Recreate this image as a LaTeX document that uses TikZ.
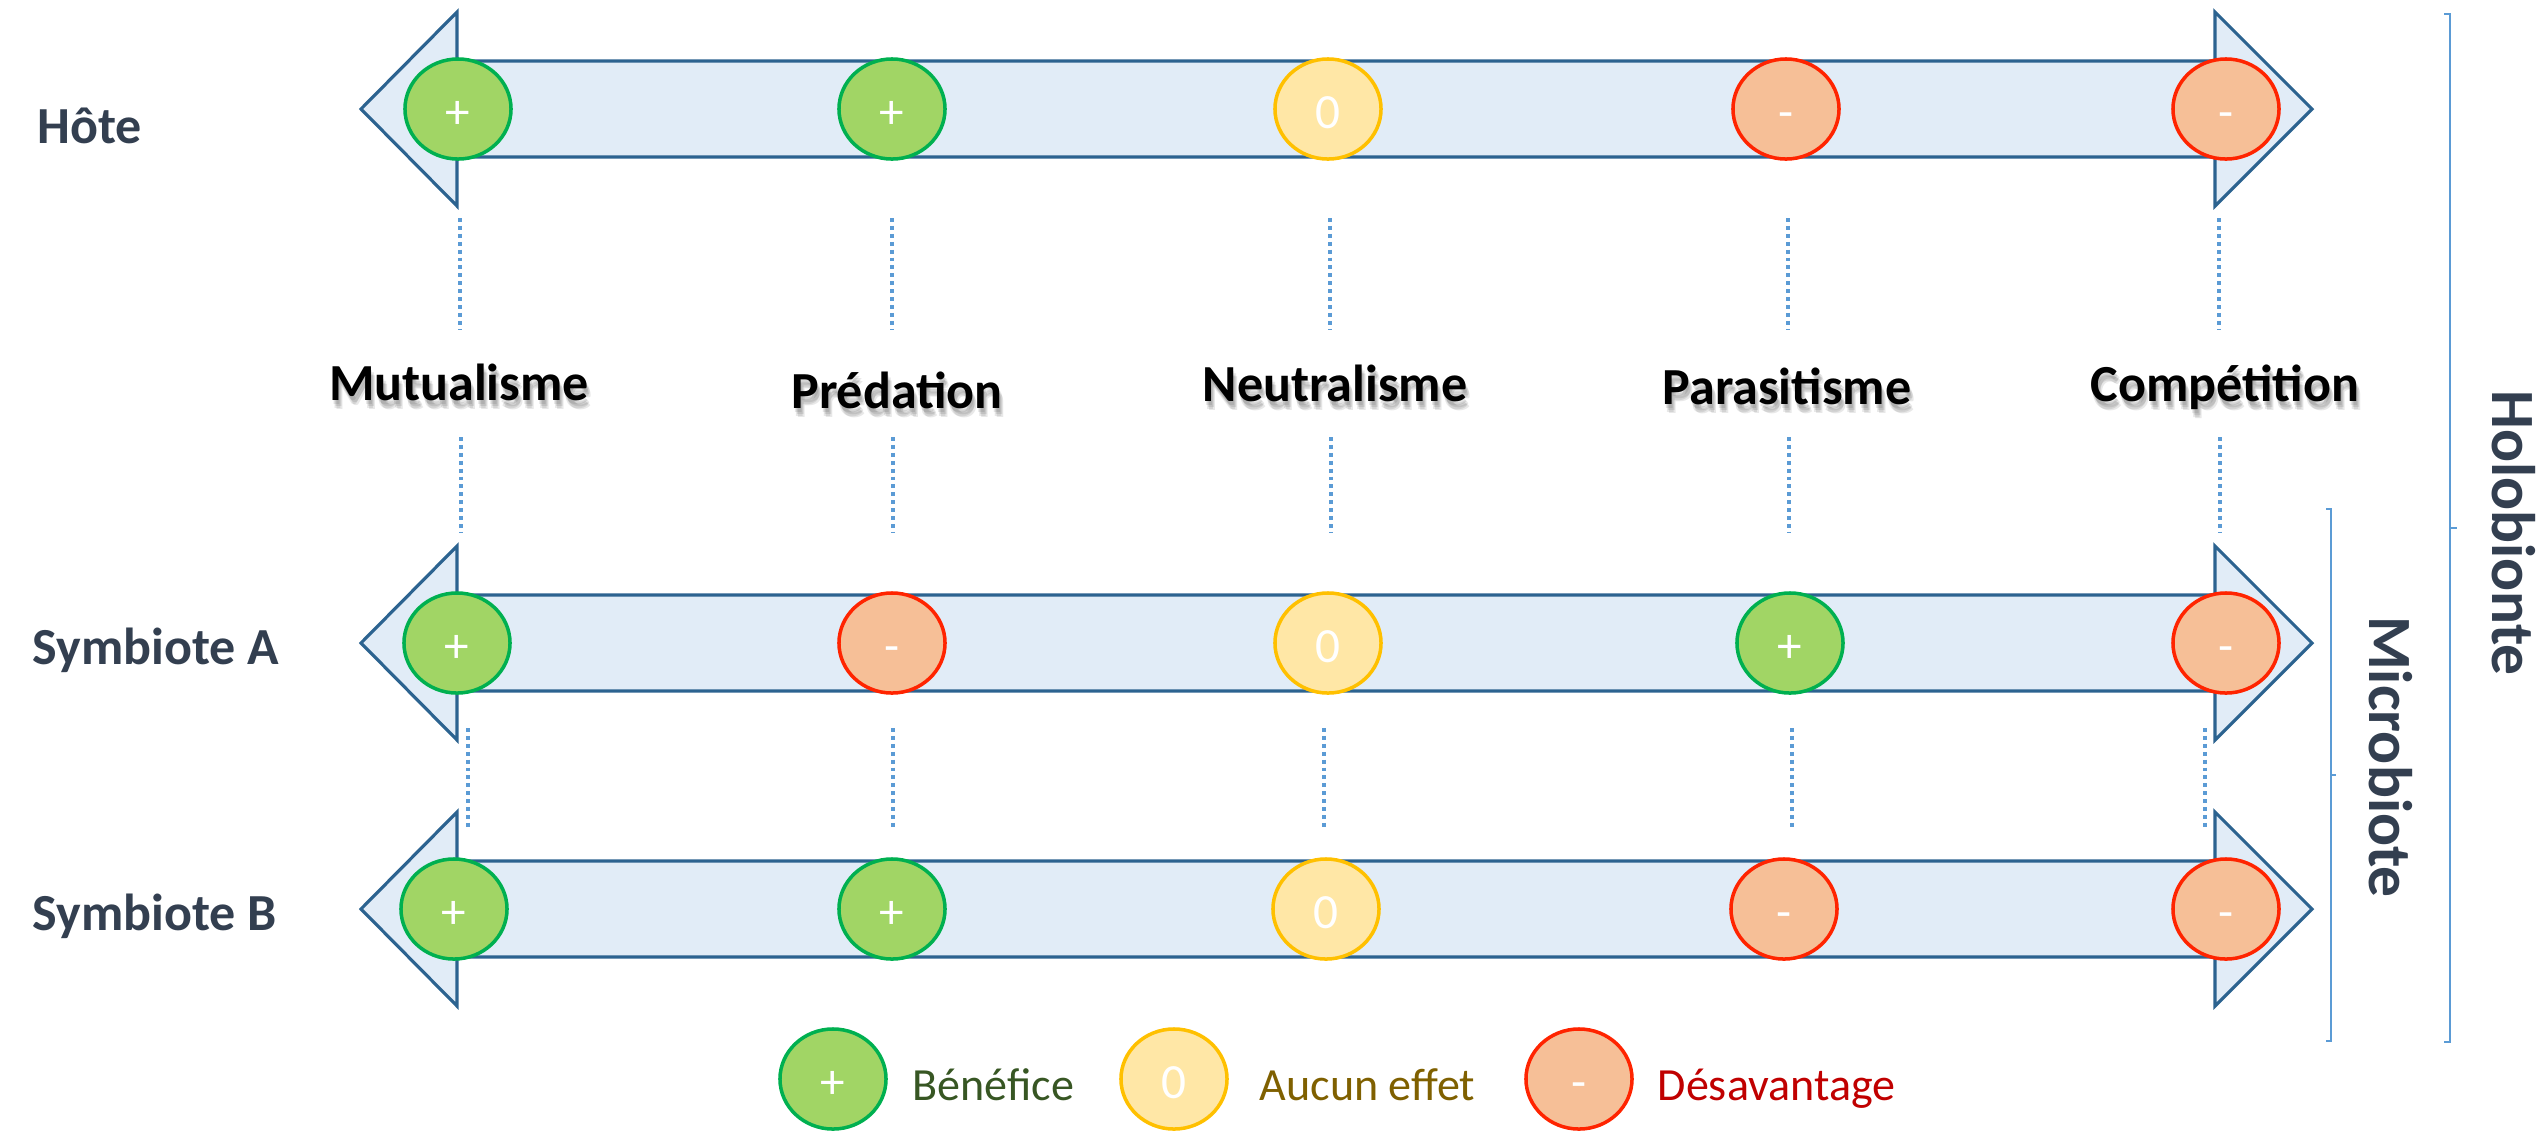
\documentclass[tikz,border=0pt]{standalone}
\usepackage{fontspec}
\setmainfont{Carlito}
\usetikzlibrary{shapes.geometric}

\definecolor{bandfill}{HTML}{E1ECF7}
\definecolor{bandline}{HTML}{2C6390}
\definecolor{verdfill}{HTML}{A1D565}
\definecolor{verdline}{HTML}{00B050}
\definecolor{jaunefill}{HTML}{FFE7A6}
\definecolor{jauneline}{HTML}{FFC000}
\definecolor{rougefill}{HTML}{F6BF97}
\definecolor{rougeline}{HTML}{FF2400}
\definecolor{pointcol}{HTML}{5B9BD5}
\definecolor{ardoise}{HTML}{333F50}
\definecolor{txtvert}{HTML}{375623}
\definecolor{txtjaune}{HTML}{7F6000}
\definecolor{txtrouge}{HTML}{C00000}

\tikzset{
  band/.style={fill=bandfill, draw=bandline, line width=0.9pt, line join=miter},
  pastille/.style={ellipse, minimum width=1.06cm, minimum height=1.0cm, inner sep=0pt,
    line width=1pt, text=white, font=\fontsize{14}{14}\selectfont,
    text height=1.2em, text depth=0.1em},
  benef/.style={pastille, fill=verdfill, draw=verdline},
  neutre/.style={pastille, fill=jaunefill, draw=jauneline},
  desav/.style={pastille, fill=rougefill, draw=rougeline},
  pointille/.style={pointcol, line width=1.1pt, dash pattern=on 1.1pt off 1.15pt},
  espece/.style={anchor=base west, inner sep=0pt, text=ardoise, font=\fontsize{14.8}{18}\selectfont\bfseries},
  interaction/.style={anchor=base, inner sep=0pt, font=\fontsize{14.8}{18}\selectfont\bfseries},
  ombre/.style={interaction, text=black, opacity=0.09},
  accolade/.style={pointcol, line width=0.6pt},
  groupe/.style={rotate=-90, anchor=base, inner sep=0pt, text=ardoise, font=\fontsize{17.5}{20}\selectfont\bfseries},
  legende/.style={anchor=base west, inner sep=0pt, font=\fontsize{13.1}{16}\selectfont},
}

\begin{document}
\begin{tikzpicture}[x=0.01cm, y=-0.01cm]
    \useasboundingbox (0,0) rectangle (2547,1132);
    % double arrows
    \foreach \r in {109, 643, 909} {
        \draw[band] (361,\r) -- (457,\r-97) -- (457,\r-48) -- (2215,\r-48) -- (2215,\r-97)
            -- (2312,\r) -- (2215,\r+97) -- (2215,\r+48) -- (457,\r+48) -- (457,\r+97) -- cycle;
    }
    % host
    \node[benef] (h1) at (458,109) {+};
    \node[benef] (h2) at (892,109) {+};
    \node[neutre] (h3) at (1328,109) {0};
    \node[desav] (h4) at (1786,109) {-};
    \node[desav] (h5) at (2226,109) {-};
    % symbiote A
    \node[benef] (a1) at (457,643) {+};
    \node[desav] (a2) at (892,643) {-};
    \node[neutre] (a3) at (1328,643) {0};
    \node[benef] (a4) at (1790,643) {+};
    \node[desav] (a5) at (2226,643) {-};
    % symbiote B
    \node[benef] (b1) at (454,909) {+};
    \node[benef] (b2) at (892,909) {+};
    \node[neutre] (b3) at (1326,909) {0};
    \node[desav] (b4) at (1784,909) {-};
    \node[desav] (b5) at (2226,909) {-};
    % row labels
    \node[espece] (hote) at (37,143) {Hôte};
    \node[espece] (syma) at (32,664) {Symbiote A};
    \node[espece] (symb) at (32,930) {Symbiote B};
    % interaction labels, with soft shadow
    \foreach \x/\y/\t/\n in {459/400/Mutualisme/mutu, 897/408/Prédation/preda,
        1335/401/Neutralisme/neutr, 1787/404/Parasitisme/paras, 2225/401/Compétition/compe} {
        \foreach \dx/\dy in {1/4, 3/6, 2/8, 4/9} {
            \node[ombre] at (\x+\dx,\y+\dy) {\t};
        }
        \node[interaction] (\n) at (\x,\y) {\t};
    }
    % dotted guides
    \foreach \x/\n in {460/1, 892/2, 1330/3, 1788/4, 2219/5} {
        \coordinate (p\n) at (\x,218);
        \coordinate (q\n) at (\x,330);
        \draw[pointille] (p\n) -- (q\n);
    }
    \foreach \x/\n in {461/1, 893/2, 1331/3, 1789/4, 2220/5} {
        \coordinate (r\n) at (\x,437);
        \coordinate (s\n) at (\x,532);
        \draw[pointille] (r\n) -- (s\n);
    }
    \foreach \x/\n in {468/1, 893/2, 1324/3, 1792/4, 2205/5} {
        \coordinate (u\n) at (\x,728);
        \coordinate (v\n) at (\x,828);
        \draw[pointille] (u\n) -- (v\n);
    }
    % brackets
    \draw[accolade] (2444,14) -- (2450,14) -- (2450,1042) -- (2444,1042);
    \draw[accolade] (2450,528) -- (2457,528);
    \draw[accolade] (2326,509) -- (2331,509) -- (2331,1041) -- (2326,1041);
    \draw[accolade] (2331,775) -- (2336,775);
    \node[groupe] (holo) at (2492,533) {Holobionte};
    \node[groupe] (micro) at (2369,757) {Microbiote};
    % legend
    \node[benef] (lg1) at (833,1079) {+};
    \node[legende, text=txtvert] (lt1) at (912,1100) {Bénéfice};
    \node[neutre] (lg2) at (1174,1079) {0};
    \node[legende, text=txtjaune] (lt2) at (1259,1100) {Aucun effet};
    \node[desav] (lg3) at (1579,1079) {-};
    \node[legende, text=txtrouge] (lt3) at (1657,1100) {Désavantage};
\end{tikzpicture}
\end{document}
